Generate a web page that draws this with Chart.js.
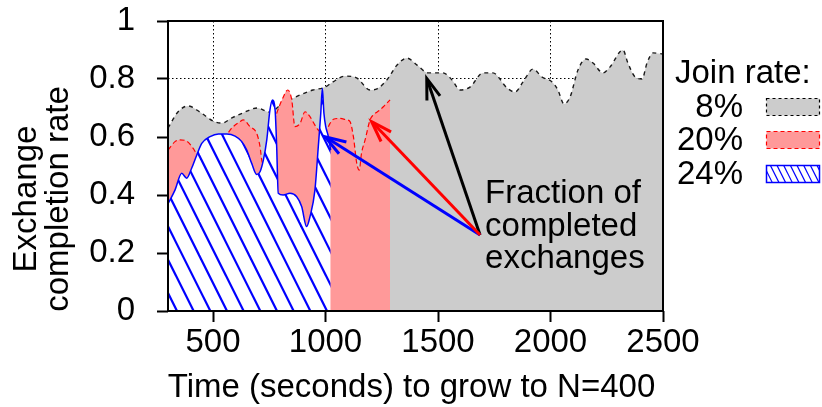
<!DOCTYPE html>
<html>
<head>
<meta charset="utf-8">
<script src="https://cdn.jsdelivr.net/npm/chart.js@4.4.0/dist/chart.umd.min.js"></script>
<style>
  html, body { margin: 0; padding: 0; background: #fff; overflow: hidden; }
  canvas { display: block; }
</style>
</head>
<body>
<canvas id="c" width="822" height="407"></canvas>
<script>
// Join-rate series
const seriesNames = ['8%', '20%', '24%'];

// 8% join rate
const grayTimes = [300, 344, 389, 442, 500, 540, 584, 633, 696, 753, 811, 856, 887, 944, 998,
  1033, 1087, 1140, 1198, 1229, 1273, 1318, 1362, 1407, 1456, 1522, 1562, 1598, 1642, 1700,
  1744, 1807, 1842, 1878, 1922, 1962, 2007, 2033, 2060, 2087, 2122, 2158, 2189, 2233, 2264,
  2322, 2344, 2376, 2407, 2429, 2456, 2500];
const grayRates = [0.631, 0.686, 0.707, 0.686, 0.655, 0.648, 0.666, 0.683, 0.700, 0.686, 0.717,
  0.734, 0.745, 0.762, 0.772, 0.790, 0.810, 0.803, 0.762, 0.766, 0.797, 0.848, 0.872, 0.848,
  0.821, 0.821, 0.797, 0.762, 0.772, 0.821, 0.821, 0.769, 0.755, 0.790, 0.834, 0.807, 0.790,
  0.762, 0.714, 0.738, 0.831, 0.869, 0.855, 0.821, 0.841, 0.900, 0.855, 0.807, 0.800, 0.855,
  0.890, 0.886];

// 20% join rate
const redTimes = [300, 331, 353, 383, 412, 428, 460, 500, 540, 576, 620, 635, 664, 694, 709,
  718, 735, 752, 768, 783, 813, 832, 850, 864, 887, 909, 931, 953, 968, 986, 1005, 1020, 1035,
  1064, 1094, 1109, 1124, 1139, 1150, 1160, 1176, 1198, 1212, 1242, 1264, 1287];
const redRates = [0.555, 0.584, 0.590, 0.586, 0.561, 0.544, 0.545, 0.560, 0.575, 0.624, 0.653,
  0.659, 0.636, 0.613, 0.567, 0.515, 0.500, 0.560, 0.640, 0.681, 0.739, 0.762, 0.728, 0.636,
  0.647, 0.687, 0.670, 0.641, 0.624, 0.615, 0.624, 0.647, 0.661, 0.664, 0.659, 0.653, 0.601,
  0.509, 0.486, 0.544, 0.590, 0.659, 0.676, 0.693, 0.710, 0.728];

// 24% join rate
const blueTimes = [300, 331, 361, 383, 405, 428, 450, 487, 524, 561, 598, 628, 650, 672, 694,
  709, 724, 739, 753, 764, 776, 783, 790, 812, 842, 872, 894, 916, 931, 953, 968, 979, 986,
  993, 1001, 1011, 1023];
const blueRates = [0.370, 0.417, 0.475, 0.458, 0.492, 0.538, 0.578, 0.601, 0.610, 0.610, 0.603,
  0.584, 0.555, 0.509, 0.471, 0.480, 0.521, 0.590, 0.693, 0.728, 0.693, 0.567, 0.406, 0.400,
  0.406, 0.394, 0.360, 0.291, 0.325, 0.417, 0.567, 0.682, 0.768, 0.682, 0.636, 0.607, 0.555];

// Axis ticks
const xTickValues = [500, 1000, 1500, 2000, 2500];
const yTickValues = [0, 0.2, 0.4, 0.6, 0.8, 1];

// Texts
const xTitle = 'Time (seconds) to grow to N=400';
const yTitleLines = ['Exchange', 'completion rate'];
const legendTitle = 'Join rate:';
const noteLines = ['Fraction of', 'completed', 'exchanges'];

// Annotation arrows (time, rate): common tail, one head per series
const arrowTail = [1687, 0.262];
const arrowHeads = [[1450, 0.802], [998, 0.601], [1205, 0.653]];
const notePos = [1709, 0.372];

const FONT = '"Liberation Sans", Arial, Helvetica, sans-serif';
const FS = 33;
Chart.defaults.font.family = FONT;

// "\\\" hatch tile: w x 2w with n lines of slope 2
function makeHatch(w, n, lw, color, phase) {
  const c = document.createElement('canvas');
  c.width = w; c.height = 2 * w;
  const g = c.getContext('2d');
  g.fillStyle = '#ffffff';
  g.fillRect(0, 0, w, 2 * w);
  g.strokeStyle = color;
  g.lineWidth = lw;
  const s = w / n;
  for (let k = -2 * n; k <= 2 * n; k++) {
    const x0 = k * s + phase;
    g.beginPath();
    g.moveTo(x0 - 4, -8);
    g.lineTo(x0 + w + 4, 2 * w + 8);
    g.stroke();
  }
  return g.createPattern(c, 'repeat');
}

const plotCtx = document.getElementById('c').getContext('2d');
const hatchBig = makeHatch(50, 3, 2.2, '#0000ff', 4.83);
const hatchSmall = makeHatch(20, 3, 1.2, '#0000ff', 1);

const toPoints = (ts, vs) => ts.map((t, i) => ({ x: t, y: vs[i] }));

function drawArrow(ctx, x1, y1, x2, y2, color) {
  const ang = Math.atan2(y2 - y1, x2 - x1);
  const L = 22, h = 0.32;
  ctx.strokeStyle = color;
  ctx.lineWidth = 3;
  ctx.lineCap = 'butt';
  ctx.lineJoin = 'miter';
  ctx.setLineDash([]);
  ctx.beginPath();
  ctx.moveTo(x1, y1);
  ctx.lineTo(x2 - 2 * Math.cos(ang), y2 - 2 * Math.sin(ang));
  ctx.stroke();
  ctx.beginPath();
  ctx.moveTo(x2 - L * Math.cos(ang - h), y2 - L * Math.sin(ang - h));
  ctx.lineTo(x2, y2);
  ctx.lineTo(x2 - L * Math.cos(ang + h), y2 - L * Math.sin(ang + h));
  ctx.stroke();
}

const decor = {
  id: 'decor',
  afterDatasetsDraw(chart) {
    const { ctx, chartArea: a, scales: { x, y } } = chart;
    ctx.save();
    // plot frame
    ctx.setLineDash([]);
    ctx.strokeStyle = '#000';
    ctx.lineWidth = 2;
    ctx.strokeRect(a.left, a.top, a.right - a.left, a.bottom - a.top);

    // arrows
    const tx = x.getPixelForValue(arrowTail[0]);
    const ty = y.getPixelForValue(arrowTail[1]);
    const colors = ['#000000', '#0000ff', '#ff0000'];
    arrowHeads.forEach((p, i) => {
      drawArrow(ctx, tx, ty, x.getPixelForValue(p[0]), y.getPixelForValue(p[1]), colors[i]);
    });

    // note text
    ctx.fillStyle = '#000';
    ctx.font = FS + 'px ' + FONT;
    ctx.textAlign = 'left';
    ctx.textBaseline = 'alphabetic';
    const nx = x.getPixelForValue(notePos[0]);
    const ny = y.getPixelForValue(notePos[1]);
    noteLines.forEach((t, i) => ctx.fillText(t, nx, ny + i * 32.5));
    ctx.restore();
  },
  afterDraw(chart) {
    const { ctx } = chart;
    ctx.save();
    ctx.fillStyle = '#000';
    ctx.font = FS + 'px ' + FONT;
    ctx.textBaseline = 'alphabetic';

    // x title
    ctx.textAlign = 'center';
    ctx.fillText(xTitle, 411.5, 397);

    // y title (two rotated lines)
    [36, 68].forEach((bx, i) => {
      ctx.save();
      ctx.translate(bx, 199);
      ctx.rotate(-Math.PI / 2);
      ctx.fillText(yTitleLines[i], 0, 0);
      ctx.restore();
    });

    // legend
    ctx.textAlign = 'left';
    ctx.fillText(legendTitle, 675, 83);
    const rows = [117, 150, 184];
    const fills = ['#cccccc', '#ff9999', hatchSmall];
    const strokes = ['#000000', '#ff0000', '#0000ff'];
    const dashes = [[3, 3], [4, 3], []];
    ctx.textAlign = 'right';
    seriesNames.forEach((name, i) => {
      const b = rows[i];
      ctx.fillStyle = '#000';
      ctx.fillText(name, 743, b);
      const sx = 766.5, sy = b - 18.5, sw = 53, sh = 17;
      ctx.fillStyle = fills[i];
      ctx.fillRect(sx, sy, sw, sh);
      ctx.strokeStyle = strokes[i];
      ctx.lineWidth = i === 2 ? 1.5 : 1.2;
      ctx.setLineDash(dashes[i]);
      ctx.strokeRect(sx, sy, sw, sh);
      ctx.setLineDash([]);
    });
    ctx.restore();
  }
};

const edgeless = (lo, hi) => (c) =>
  (c.tick && (c.tick.value === lo || c.tick.value === hi)) ? 'rgba(0,0,0,0)' : '#000000';

new Chart(plotCtx, {
  type: 'line',
  data: {
    datasets: [
      {
        label: seriesNames[0], data: toPoints(grayTimes, grayRates), order: 3,
        fill: 'origin', backgroundColor: '#cccccc',
        borderColor: '#1a1a1a', borderWidth: 1.4, borderDash: [4, 4]
      },
      {
        label: seriesNames[1], data: toPoints(redTimes, redRates), order: 2,
        fill: 'origin', backgroundColor: '#ff9999',
        borderColor: '#ff0000', borderWidth: 1.2, borderDash: [5, 3]
      },
      {
        label: seriesNames[2], data: toPoints(blueTimes, blueRates), order: 1,
        fill: 'origin', backgroundColor: hatchBig,
        borderColor: '#0000ff', borderWidth: 1.5
      }
    ]
  },
  options: {
    responsive: false,
    devicePixelRatio: 1,
    animation: false,
    events: [],
    layout: { padding: { left: 0, top: 21, right: 159, bottom: 0 } },
    elements: {
      point: { radius: 0 },
      line: { cubicInterpolationMode: 'monotone' }
    },
    plugins: { legend: { display: false }, tooltip: { enabled: false } },
    scales: {
      x: {
        type: 'linear', min: 300, max: 2500,
        afterBuildTicks: (s) => { s.ticks = xTickValues.map(v => ({ value: v })); },
        afterFit: (s) => { s.height = 96; s.paddingLeft = 0; s.paddingRight = 0; },
        grid: {
          color: edgeless(300, 2500), lineWidth: 1,
          tickLength: 11, tickColor: '#000', tickWidth: 2, tickBorderDash: []
        },
        border: { display: false, dash: [1.5, 2.5] },
        ticks: {
          font: { size: FS, lineHeight: 1 }, color: '#000', padding: 4,
          maxRotation: 0, autoSkip: false, callback: (v) => String(v)
        }
      },
      y: {
        type: 'linear', min: 0, max: 1,
        afterBuildTicks: (s) => { s.ticks = yTickValues.map(v => ({ value: v })); },
        afterFit: (s) => { s.width = 168; s.paddingTop = 0; s.paddingBottom = 0; },
        grid: {
          color: edgeless(0, 1), lineWidth: 1,
          tickLength: 11, tickColor: '#000', tickWidth: 2, tickBorderDash: []
        },
        border: { display: false, dash: [1.5, 2.5] },
        ticks: {
          font: { size: FS, lineHeight: 1.2 }, color: '#000', padding: 22,
          autoSkip: false, callback: (v) => String(v)
        }
      }
    }
  },
  plugins: [decor]
});
</script>
</body>
</html>
